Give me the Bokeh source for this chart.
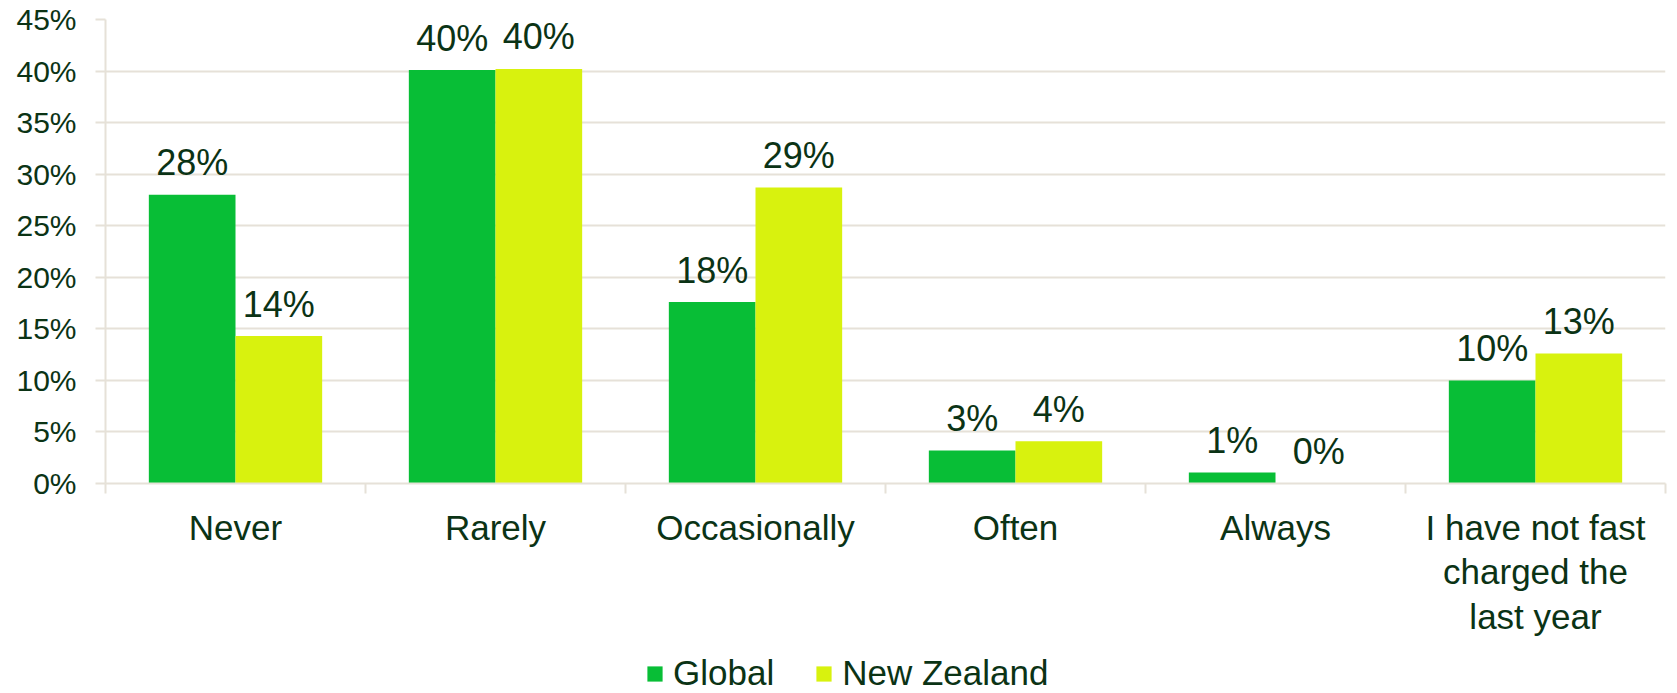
from bokeh.plotting import figure
from bokeh.layouts import column
from bokeh.models import (Range1d, FixedTicker, PrintfTickFormatter, Legend, LegendItem,
                          ColumnDataSource, LinearAxis)
from bokeh.embed import file_html
from bokeh.resources import INLINE
from bokeh.core.properties import value

categories = ["Never", "Rarely", "Occasionally", "Often", "Always",
              "I have not fast\ncharged the\nlast year"]
global_vals = [28.0, 40.1, 17.6, 3.2, 1.06, 10.0]
nz_vals = [14.3, 40.2, 28.7, 4.1, 0.0, 12.6]
series_names = ["Global", "New Zealand"]
y_ticks = [0, 5, 10, 15, 20, 25, 30, 35, 40, 45]

GREEN = "#08be36"
YELLOW = "#d8f20e"
TEXT = "#0b3315"
GRID = "#e6e1d8"
FONT = "Liberation Sans"

n = len(categories)
centers = [i + 0.5 for i in range(n)]
bw = 1 / 3

src_g = ColumnDataSource(dict(x=[c - bw / 2 for c in centers], top=global_vals,
                              lab=[f"{round(v)}%" for v in global_vals]))
src_n = ColumnDataSource(dict(x=[c + bw / 2 for c in centers], top=nz_vals,
                              lab=[f"{round(v)}%" for v in nz_vals]))

p = figure(output_backend="svg", toolbar_location=None,
           frame_width=1560, frame_height=464,
           x_range=Range1d(0, n), y_range=Range1d(0, 45),
           min_border_left=105, min_border_top=19, min_border_right=12,
           min_border_bottom=158, x_axis_location=None, y_axis_location=None)
p.outline_line_color = None
p.background_fill_color = "white"
p.border_fill_color = "white"

p.vbar(x="x", top="top", width=bw, source=src_g, fill_color=GREEN, line_color=None)
p.vbar(x="x", top="top", width=bw, source=src_n, fill_color=YELLOW, line_color=None)

for src in (src_g, src_n):
    p.text(x="x", y="top", text="lab", source=src, text_align="center",
           text_baseline="alphabetic", y_offset=-32, text_font=value(FONT),
           text_font_size="36px", text_color=TEXT)

# y axis
yax = LinearAxis(ticker=FixedTicker(ticks=y_ticks),
                 formatter=PrintfTickFormatter(format="%d%%"))
yax.axis_line_color = GRID
yax.axis_line_width = 2
yax.major_tick_line_color = GRID
yax.major_tick_line_width = 2
yax.major_tick_out = 10
yax.major_tick_in = 0
yax.minor_tick_line_color = None
yax.major_label_standoff = 19
yax.major_label_text_font = FONT
yax.major_label_text_font_size = "30px"
yax.major_label_text_color = TEXT
p.add_layout(yax, "left")

# x axis (category labels at centres, separator ticks at boundaries)
xax = LinearAxis(ticker=FixedTicker(ticks=centers, minor_ticks=list(range(n + 1))))
xax.major_label_overrides = {c: lab for c, lab in zip(centers, categories)}
xax.axis_line_color = GRID
xax.axis_line_width = 2
xax.major_tick_line_color = None
xax.major_tick_out = 0
xax.major_tick_in = 0
xax.minor_tick_line_color = GRID
xax.minor_tick_line_width = 2
xax.minor_tick_out = 10
xax.minor_tick_in = 0
xax.major_label_standoff = 14
xax.major_label_text_font = FONT
xax.major_label_text_font_size = "35px"
xax.major_label_text_line_height = 1.15
xax.major_label_text_color = TEXT
p.add_layout(xax, "below")

p.xgrid.visible = False
p.ygrid.grid_line_color = GRID
p.ygrid.grid_line_width = 2
p.ygrid.ticker = FixedTicker(ticks=y_ticks)

# legend strip (its bars lie outside its visible range; only the legend shows)
lg = figure(output_backend="svg", toolbar_location=None, width=1677, height=52,
            x_range=Range1d(0, n), y_range=Range1d(1000, 1001),
            min_border_left=0, min_border_right=0, min_border_top=0, min_border_bottom=0,
            x_axis_location=None, y_axis_location=None)
lg.outline_line_color = None
lg.grid.visible = False
lr1 = lg.vbar(x="x", top="top", width=bw, source=src_g, fill_color=GREEN, line_color=None)
lr2 = lg.vbar(x="x", top="top", width=bw, source=src_n, fill_color=YELLOW, line_color=None)
legend = Legend(items=[LegendItem(label=series_names[0], renderers=[lr1]),
                       LegendItem(label=series_names[1], renderers=[lr2])],
                orientation="horizontal", location=(540, 0),
                glyph_width=19, glyph_height=19, label_standoff=9, spacing=40,
                label_text_font=FONT, label_text_font_size="35px",
                label_text_color=TEXT, border_line_color=None,
                background_fill_alpha=0, padding=0, margin=0)
lg.add_layout(legend, "center")

layout = column(p, lg, spacing=0)
open("out.html", "w").write(file_html(layout, INLINE))
